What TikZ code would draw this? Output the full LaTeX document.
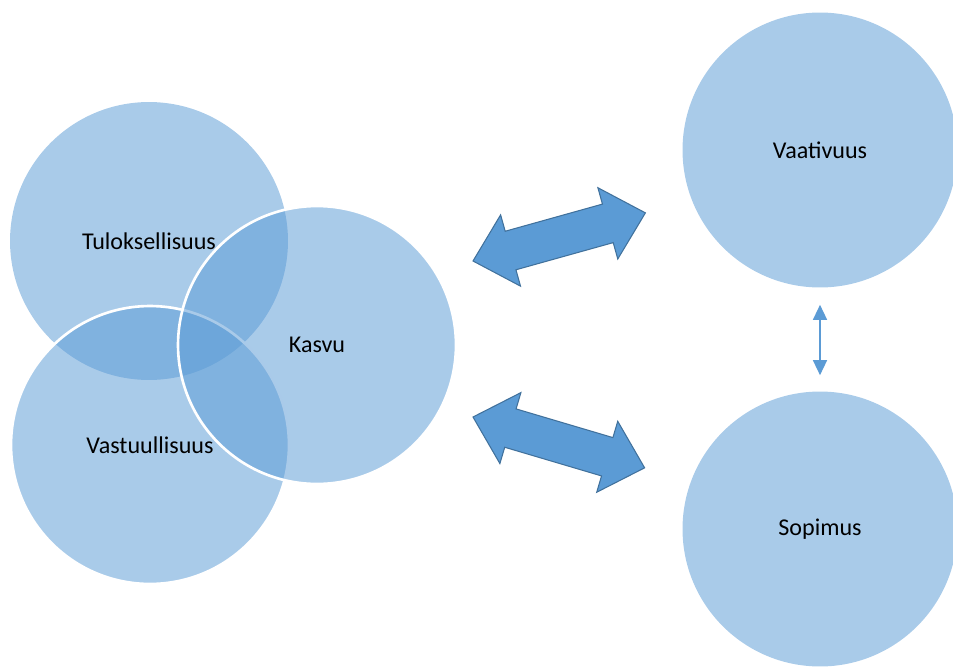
\documentclass[tikz,border=0pt]{standalone}
\usepackage{fontspec}
\setmainfont{Carlito}
\usetikzlibrary{arrows.meta}

\definecolor{accent}{HTML}{5B9BD5}
\definecolor{accentdark}{HTML}{41719C}

\tikzset{
  dblarrow/.pic={
    \filldraw[fill=accent,draw=accentdark,line width=0.6pt,line join=miter]
      (0,0) -- (39,37) -- (39,20) -- (140,20) -- (140,37)
      -- (179,0) -- (140,-37) -- (140,-20) -- (39,-20)
      -- (39,-37) -- cycle;
  }
}

\begin{document}
\begin{tikzpicture}[x=0.02cm,y=-0.02cm,
      circ/.style={circle,fill=accent,fill opacity=.52,text opacity=1,
        minimum size=5.56cm,inner sep=0pt,font=\fontsize{13.7}{16}\selectfont},
      rim/.style={draw=white,line width=1.5pt}]
  \clip (0,0) rectangle (953,666);
  % left group
  \node[circ] (tul) at (149,241) {Tuloksellisuus};
  \node[circ,rim] (vast) at (150,445) {Vastuullisuus};
  \node[circ,rim] (kasvu) at (317,345) {Kasvu};
  % right pair
  \node[circ,minimum size=5.5cm] (vaat) at (820,150) {Vaativuus};
  \node[circ,minimum size=5.5cm] (sop) at (820,529) {Sopimus};
  \draw[{Triangle[width=0.28cm,length=0.3cm]}-{Triangle[width=0.28cm,length=0.3cm]},
    accent,line width=0.8pt,shorten <=0.34cm,shorten >=0.32cm] (vaat) -- (sop);
  % block arrows
  \pic[rotate=15.6] at (473,261) {dblarrow};
  \pic[rotate=-16.5] at (473,417) {dblarrow};
\end{tikzpicture}
\end{document}
